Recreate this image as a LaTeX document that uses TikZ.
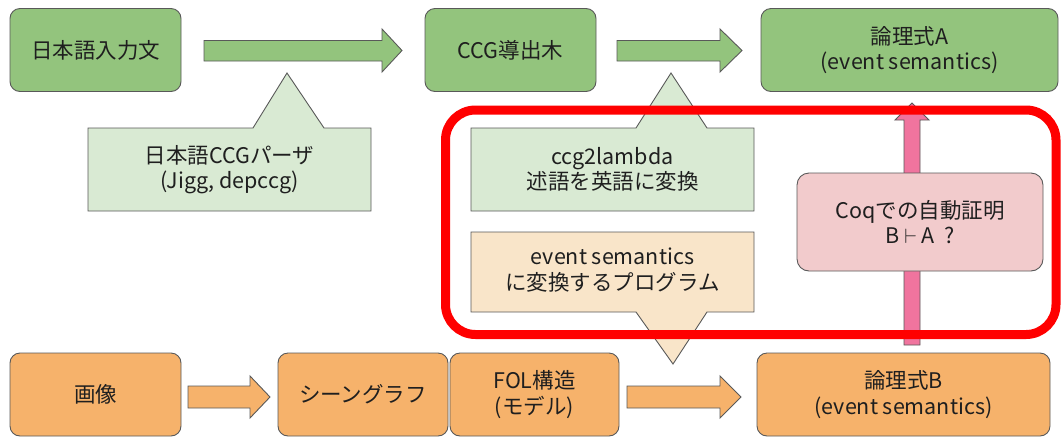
\documentclass[tikz,border=0pt]{standalone}
\usepackage{fontspec}
\setmainfont{Noto Sans CJK JP}
\usetikzlibrary{calc}
\definecolor{gDark}{HTML}{93C47D}
\definecolor{gLight}{HTML}{D9EAD3}
\definecolor{oDark}{HTML}{F6B26B}
\definecolor{oLight}{HTML}{F9E5C9}
\definecolor{pBox}{HTML}{F2CBCC}
\definecolor{pArrow}{HTML}{F0749E}
\definecolor{edge}{HTML}{595959}
\definecolor{redline}{HTML}{FF0000}
\begin{document}
\begin{tikzpicture}[x=1pt,y=-1pt,
  every node/.style={font=\fontsize{21.5}{25.5}\selectfont, text=black!88, align=center, inner sep=0pt},
  box/.style={draw=edge, line width=0.9pt, rounded corners=10pt, minimum height=83pt},
  callout/.style={draw=edge, line width=0.9pt},
  barrow/.style={draw=edge, line width=0.9pt, line join=miter},
  redframe/.style={draw=redline, line width=9pt, rounded corners=30pt}]
\useasboundingbox (0,0) rectangle (1063,437);
% top row
\node[box, fill=gDark, minimum width=171pt] (in) at (95.5,50) {日本語入力文};
\node[box, fill=gDark, minimum width=171pt] (ccg) at (510.5,50) {CCG導出木};
\node[box, fill=gDark, minimum width=297pt] (logA) at (909.5,50) {論理式A\\(event semantics)};
% bottom row
\node[box, fill=oDark, minimum width=171pt] (img) at (95.5,394.5) {画像};
\node[box, fill=oDark, minimum width=170pt] (scene) at (363,394.5) {シーングラフ};
\node[box, fill=oDark, minimum width=169pt] (fol) at (534.5,394.5) {FOL構造\\(モデル)};
\node[box, fill=oDark, minimum width=293pt] (logB) at (903.5,394.5) {論理式B\\(event semantics)};
% block arrows (right)
\draw[barrow, fill=gDark] (204,40.5) -- (382,40.5) -- (382,29) -- (402,50.5) -- (382,72) -- (382,61) -- (204,61) -- cycle;
\draw[barrow, fill=gDark] (617,40.5) -- (720,40.5) -- (720,29) -- (742,50.5) -- (720,72) -- (720,61) -- (617,61) -- cycle;
\draw[barrow, fill=oDark] (188,386) -- (250,386) -- (250,376) -- (270,397) -- (250,418) -- (250,408) -- (188,408) -- cycle;
\draw[barrow, fill=oDark] (627,386) -- (720,386) -- (720,376) -- (741,397) -- (720,418) -- (720,408) -- (627,408) -- cycle;
% callouts
\draw[callout, fill=gLight] (88,128) -- (253,128) -- (287,73) -- (324,128) -- (371,128) -- (371,211) -- (88,211) -- cycle;
\node (parser) at (229.5,169.5) {日本語CCGパーザ\\(Jigg, depccg)};
\draw[callout, fill=gLight] (471,128) -- (636,128) -- (671,73) -- (707,128) -- (754,128) -- (754,211) -- (471,211) -- cycle;
\node (c2l) at (612.5,169.5) {ccg2lambda\\述語を英語に変換};
\draw[callout, fill=oLight] (471,232) -- (754,232) -- (754,312) -- (707,312) -- (673,364) -- (636,312) -- (471,312) -- cycle;
\node (evprog) at (612.5,270) {event semantics\\に変換するプログラム};
% pink up arrow
\draw[barrow, fill=pArrow] (904,345) -- (904,120) -- (895,120) -- (912,103) -- (929,120) -- (920,120) -- (920,345) -- cycle;
\node[box, fill=pBox, minimum width=246pt, minimum height=98pt, rounded corners=12pt] (coq) at (920,222) {Coqでの自動証明\\B $\vdash$ A\ \ ?};
% red frame
\draw[redframe] (445.5,110) rectangle (1056,334.5);
\end{tikzpicture}
\end{document}
